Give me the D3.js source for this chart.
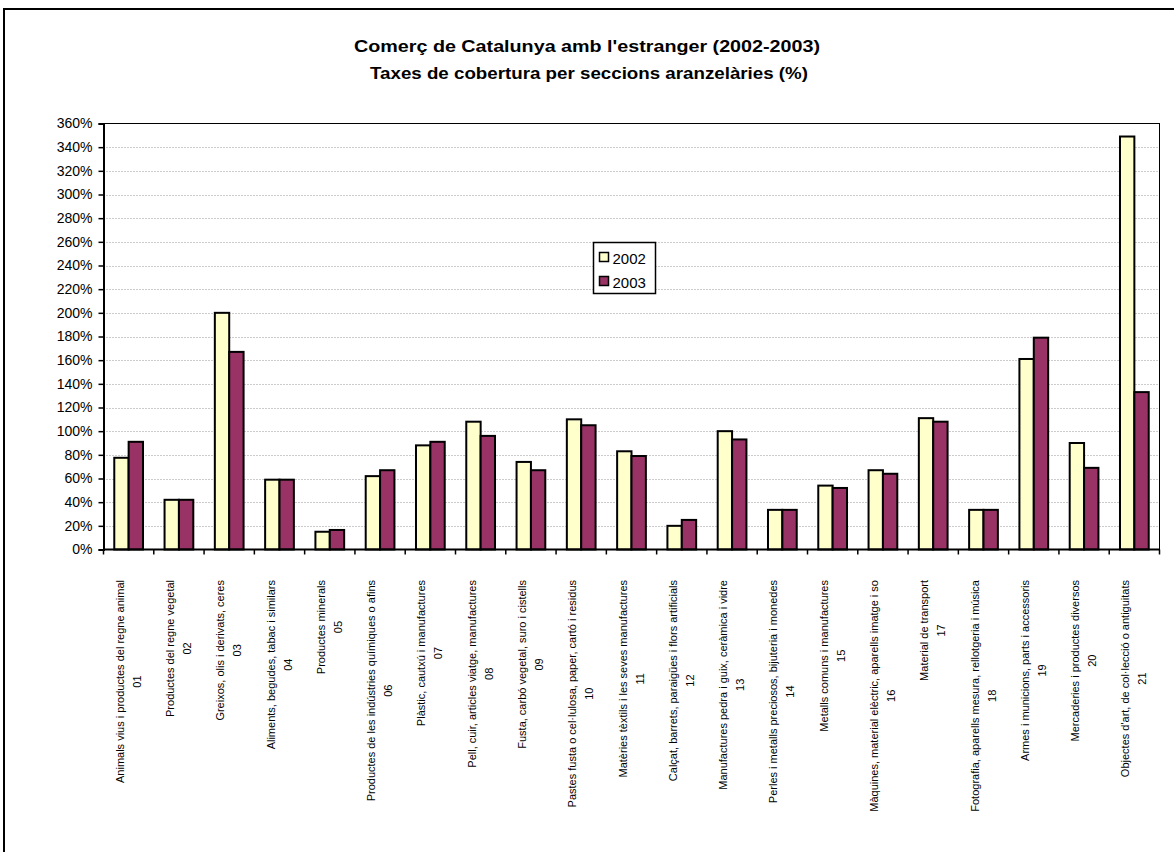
<!DOCTYPE html>
<html>
<head>
<meta charset="utf-8">
<script src="https://cdn.jsdelivr.net/npm/d3@7"></script>
<style>
  body { margin: 0; background: #fff; }
  text { font-family: "Liberation Sans", Arial, sans-serif; fill: #000; }
</style>
</head>
<body>
<svg id="chart" width="1174" height="852"></svg>
<script>
// section names and codes
var sections = [
  "Animals vius i productes del regne animal",
  "Productes del regne vegetal",
  "Greixos, olis i derivats, ceres",
  "Aliments, begudes, tabac i similars",
  "Productes minerals",
  "Productes de les indústries químiques o afins",
  "Plàstic, cautxú i manufactures",
  "Pell, cuir, articles viatge, manufactures",
  "Fusta, carbó vegetal, suro i cistells",
  "Pastes fusta o cel·lulosa, paper, cartó i residus",
  "Matèries tèxtils i les seves manufactures",
  "Calçat, barrets, paraigües i flors artificials",
  "Manufactures pedra i guix, ceràmica i vidre",
  "Perles i metalls preciosos, bijuteria i monedes",
  "Metalls comuns i manufactures",
  "Màquines, material elèctric, aparells imatge i so",
  "Material de transport",
  "Fotografia, aparells mesura, rellotgeria i música",
  "Armes i municions, parts i accessoris",
  "Mercaderies i productes diversos",
  "Objectes d'art, de col·lecció o antiguitats"
];
var codes = ["01","02","03","04","05","06","07","08","09","10","11",
             "12","13","14","15","16","17","18","19","20","21"];

var years = ["2002", "2003"];
var values2002 = [77.5, 42, 200, 59, 15, 62, 88, 108, 74, 110, 83,
                  20, 100, 33.5, 54, 67, 111, 33.5, 161, 90, 349];
var values2003 = [91, 42, 167, 59, 16.5, 67, 91, 96, 67, 105, 79,
                  25, 93, 33.5, 52, 64, 108, 33.5, 179, 69, 133];
var yTicks = d3.range(0, 361, 20);
var colors = ["#FFFFCC", "#993366"];

var svg = d3.select("#chart");

// outer chart frame
svg.append("rect")
  .attr("x", 4).attr("y", 9)
  .attr("width", 1250).attr("height", 900)
  .attr("fill", "none").attr("stroke", "#000").attr("stroke-width", 2);

var pLeft = 103.5, pRight = 1159.5, pTop = 123.5, pBottom = 549.5;

var x = d3.scaleBand()
  .domain(codes)
  .range([pLeft, pRight]);
var x1 = d3.scaleBand()
  .domain(years)
  .range([0, x.bandwidth()])
  .paddingInner(0)
  .paddingOuter(0.75);
var y = d3.scaleLinear()
  .domain([0, 360])
  .range([pBottom, pTop]);

// title
var title = svg.append("g").style("font-weight", "bold").style("font-size", "17px");
title.append("text").attr("x", 587).attr("y", 52).attr("text-anchor", "middle")
  .attr("textLength", 466).attr("lengthAdjust", "spacingAndGlyphs")
  .text("Comerç de Catalunya amb l'estranger (2002-2003)");
title.append("text").attr("x", 589).attr("y", 79).attr("text-anchor", "middle")
  .attr("textLength", 438).attr("lengthAdjust", "spacingAndGlyphs")
  .text("Taxes de cobertura per seccions aranzelàries (%)");

// gridlines
svg.append("g")
  .selectAll("line")
  .data(yTicks.filter(function(d) { return d > 0 && d < 360; }))
  .enter().append("line")
    .attr("x1", pLeft).attr("x2", pRight)
    .attr("y1", function(d) { return Math.round(y(d)) + 0.5; })
    .attr("y2", function(d) { return Math.round(y(d)) + 0.5; })
    .attr("stroke", "#999")
    .attr("stroke-width", 1)
    .attr("stroke-dasharray", "1,2");

// plot area border
svg.append("rect")
  .attr("x", pLeft).attr("y", pTop)
  .attr("width", pRight - pLeft).attr("height", pBottom - pTop)
  .attr("fill", "none").attr("stroke", "#000").attr("stroke-width", 1);

// bars
var rows = codes.map(function(c, i) {
  return { code: c, vals: [values2002[i], values2003[i]] };
});
var groups = svg.append("g").selectAll("g")
  .data(rows)
  .enter().append("g")
    .attr("transform", function(d) { return "translate(" + x(d.code) + ",0)"; });
groups.selectAll("rect")
  .data(function(d) { return d.vals.map(function(v, j) { return { year: years[j], v: v, j: j }; }); })
  .enter().append("rect")
    .attr("x", function(d) { return x1(d.year); })
    .attr("y", function(d) { return y(d.v); })
    .attr("width", x1.bandwidth())
    .attr("height", function(d) { return y(0) - y(d.v); })
    .attr("fill", function(d) { return colors[d.j]; })
    .attr("stroke", "#000")
    .attr("stroke-width", 2);

// y axis
var yAxis = svg.append("g")
  .attr("transform", "translate(" + pLeft + ",0)")
  .call(d3.axisLeft(y).tickValues(yTicks).tickSize(5).tickPadding(6)
    .tickFormat(function(d) { return d + "%"; }));
yAxis.select(".domain").attr("stroke", "#000").attr("stroke-width", 2);
yAxis.selectAll(".tick line").attr("stroke", "#000").attr("stroke-width", 1.5);
yAxis.selectAll(".tick text")
  .style("font-size", "14px")
  .style("font-family", "Liberation Sans, Arial, sans-serif");

// x axis line and boundary ticks
svg.append("line")
  .attr("x1", pLeft).attr("x2", pRight)
  .attr("y1", pBottom).attr("y2", pBottom)
  .attr("stroke", "#000").attr("stroke-width", 2);
svg.append("g").selectAll("line")
  .data(codes.concat(["end"]))
  .enter().append("line")
    .attr("x1", function(d, i) { return pLeft + i * x.step(); })
    .attr("x2", function(d, i) { return pLeft + i * x.step(); })
    .attr("y1", pBottom).attr("y2", pBottom + 5)
    .attr("stroke", "#000").attr("stroke-width", 1.5);

// rotated category labels
var labelTop = 580;
var labels = svg.append("g").style("font-size", "11px");
rows.forEach(function(d, i) {
  var cx = x(d.code) + x.bandwidth() / 2;
  var t1 = labels.append("text")
    .attr("transform", "translate(" + (cx - 5) + "," + labelTop + ") rotate(-90)")
    .attr("text-anchor", "end")
    .text(sections[i]);
  var len = t1.node().getComputedTextLength();
  labels.append("text")
    .attr("transform", "translate(" + (cx + 12) + "," + (labelTop + len / 2) + ") rotate(-90)")
    .attr("text-anchor", "middle")
    .text(codes[i]);
});

// legend
var legend = svg.append("g").attr("transform", "translate(593.5,242.5)");
legend.append("rect")
  .attr("width", 62).attr("height", 51)
  .attr("fill", "#fff").attr("stroke", "#000").attr("stroke-width", 1.5);
years.forEach(function(yr, j) {
  legend.append("rect")
    .attr("x", 6).attr("y", 10 + j * 24)
    .attr("width", 9).attr("height", 9)
    .attr("fill", colors[j]).attr("stroke", "#000").attr("stroke-width", 1.5);
  legend.append("text")
    .attr("x", 19).attr("y", 21 + j * 24)
    .style("font-size", "15px")
    .text(yr);
});
</script>
</body>
</html>
